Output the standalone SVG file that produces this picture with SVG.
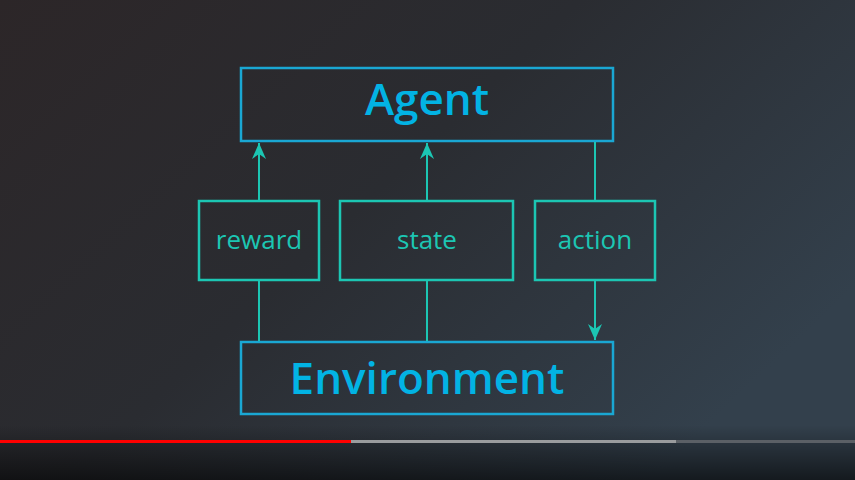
<svg xmlns="http://www.w3.org/2000/svg" width="855" height="480" viewBox="0 0 855 480">
<defs>
<linearGradient id="bg" x1="0" y1="0" x2="1" y2="0.6">
<stop offset="0" stop-color="#2c2628"/>
<stop offset="0.5" stop-color="#2a2c31"/>
<stop offset="1" stop-color="#33404c"/>
</linearGradient>
<linearGradient id="shade" x1="0" y1="0" x2="0" y2="1">
<stop offset="0" stop-color="#000" stop-opacity="0"/>
<stop offset="0.45" stop-color="#000" stop-opacity="0"/>
<stop offset="1" stop-color="#000" stop-opacity="0.6"/>
</linearGradient>
<marker id="ah" markerWidth="16" markerHeight="16" viewBox="0 0 16 16" refX="16" refY="8" orient="auto" markerUnits="userSpaceOnUse">
<path d="M0,1 L16,8 L0,15 L5,8 Z" fill="#1cc6b3"/>
</marker>
<style>
.big{fill:none;stroke:#1aa7d3;stroke-width:2.5}
.small{fill:none;stroke:#1cc6b3;stroke-width:2.5}
.bt{font-family:"Open Sans","Liberation Sans",sans-serif;font-weight:600;fill:#02b3e4;text-anchor:middle}
.st{font-family:"Open Sans","Liberation Sans",sans-serif;font-size:26px;fill:#1cc6b3;text-anchor:middle}
.c{stroke:#1cc6b3;stroke-width:2;fill:none}
</style>
</defs>
<rect width="855" height="480" fill="url(#bg)"/>
<rect y="380" width="855" height="100" fill="url(#shade)"/>
<g id="agent">
<rect class="big" x="241" y="68" width="372" height="73"/>
<text class="bt" x="427" y="115" font-size="44">Agent</text>
</g>
<g id="reward">
<rect class="small" x="199" y="201" width="120" height="79"/>
<text class="st" x="259" y="249">reward</text>
</g>
<g id="state">
<rect class="small" x="340" y="201" width="173" height="79"/>
<text class="st" x="427" y="249">state</text>
</g>
<g id="action">
<rect class="small" x="535" y="201" width="120" height="79"/>
<text class="st" x="595" y="249">action</text>
</g>
<g id="environment">
<rect class="big" x="241" y="342" width="372" height="72"/>
<text class="bt" x="427" y="394" font-size="44">Environment</text>
</g>
<g id="connectors">
<line class="c" x1="259" y1="200" x2="259" y2="143" marker-end="url(#ah)"/>
<line class="c" x1="427" y1="200" x2="427" y2="143" marker-end="url(#ah)"/>
<line class="c" x1="595" y1="142" x2="595" y2="200"/>
<line class="c" x1="259" y1="281" x2="259" y2="341"/>
<line class="c" x1="427" y1="281" x2="427" y2="341"/>
<line class="c" x1="595" y1="281" x2="595" y2="340" marker-end="url(#ah)"/>
</g>
<rect x="0" y="440" width="351" height="3" fill="#ff0000"/>
<rect x="351" y="440" width="325" height="3" fill="#9a9c9e"/>
<rect x="676" y="440" width="179" height="3" fill="#5b6066"/>
</svg>
